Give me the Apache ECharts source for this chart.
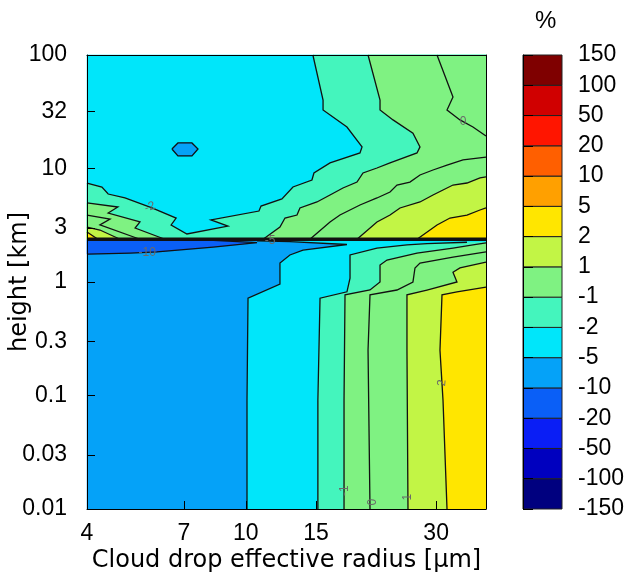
<!DOCTYPE html>
<html><head><meta charset="utf-8">
<script src="https://cdn.jsdelivr.net/npm/echarts@6/dist/echarts.min.js"></script>
<style>html,body{margin:0;padding:0;background:#fff}#c{width:632px;height:583px}</style>
</head><body><div id="c"></div>
<script>
// ---- colour scale (%), band i spans levels[i]..levels[i+1]
const levels = [-150,-100,-50,-20,-10,-5,-2,-1,1,2,5,10,20,50,100,150];
const bandColors = ['#00007f','#0000bf','#0a1ef5','#0a5ff7','#05a2f8','#00e6fa','#44f5bd','#7ff282','#c2f545','#ffe600','#ffa000','#ff5f00','#ff1500','#d00000','#7f0000'];
// ---- axes
const xTicks = [4,7,10,15,30];
const yTicks = [0.01,0.03,0.1,0.3,1,3,10,32,100];
const yTickLabels = ['0.01','0.03','0.1','0.3','1','3','10','32','100'];
const hJump = 2.38; // height (km) of the sharp jump
// ---- contour lines, points are [radius um, height km]
// below the jump
const lowM5 = [[10.07,0.01],[10.07,0.091],[10.13,0.72],[12.18,0.96],[12.18,1.47],[12.90,1.73],[13.91,1.91],[17.93,2.14],[12.90,2.27],[10.67,2.30]];
const lowM2 = [[15.16,0.01],[15.16,0.091],[15.35,0.72],[17.93,0.82],[18.25,1.08],[18.25,1.73],[21.32,1.99],[25.35,2.12],[28.45,2.18],[35.84,2.24]];
const lowM1 = [[17.63,0.01],[17.63,0.091],[17.73,0.77],[20.48,0.85],[21.70,1.00],[21.70,1.41],[22.59,1.56],[26.86,1.80],[33.06,1.99],[37.10,2.12],[40,2.21]];
const low0  = [[20.48,0.01],[20.25,0.25],[20.48,0.77],[23.93,0.85],[26.24,1.00],[26.55,1.33],[27.33,1.47],[33.06,1.66],[40,1.84]];
const lowP1 = [[25.50,0.01],[25.35,0.25],[25.35,0.77],[28.45,0.85],[33.83,1.00],[33.06,1.22],[34.42,1.33],[40,1.50]];
const lowP2 = [[31.94,0.01],[31.21,0.091],[30.67,0.25],[31.03,0.77],[33.83,0.82],[40,0.90]];
const lowM10 = [[4,1.76],[5.13,1.80],[5.99,1.84],[8.28,2.03],[10.67,2.22],[8.3,2.33],[4,2.38]];
// above the jump
const upM2 = [[4,7.45],[4.36,6.87],[4.52,5.96],[4.98,5.50],[5.82,4.49],[6.69,3.66],[6.50,3.18],[7.12,2.65],[9.02,3.11],[8.18,3.52],[10.79,4.22],[10.92,4.67],[12.32,5.39],[13.13,6.87],[14.65,7.92],[14.82,9.13],[16.26,11.2],[19.33,13.7],[19.56,15.5],[17.93,23.2],[15.62,32.8],[15.62,40.1],[14.73,100]];
const upM1 = [[11.05,2.38],[12.18,3.05],[12.54,3.66],[13.44,3.89],[13.67,4.49],[15.08,5.07],[16.26,5.84],[17.52,6.73],[19.00,7.60],[19.67,9.13],[21.32,10.1],[22.99,11.2],[26.86,13.7],[27.33,15.5],[26.24,20.5],[23.39,26.8],[21.70,32.8],[21.70,40.1],[20.25,100]];
const upM1L = [[4,4.97],[4.78,4.58],[4.52,4.05],[5.43,3.38],[5.28,2.99],[6.27,2.38]];
const up0 = [[14.48,2.38],[16.26,3.38],[17.22,3.89],[19.33,4.77],[21.32,5.50],[22.99,6.21],[23.93,7.15],[25.79,7.60],[27.33,8.77],[29.46,9.70],[31.94,10.7],[35.03,11.9],[40,12.6]];
const up0TR = [[30.15,100],[33.06,42.7],[31.94,32.8],[34.42,26.8],[37.10,23.2],[40,19.3]];
const up0L = [[4,3.89],[4.57,3.59],[4.31,3.18],[5.43,2.38]];
const upP1 = [[19.00,2.38],[21.32,3.38],[22.99,3.89],[24.35,4.49],[27.33,5.07],[29.46,5.84],[31.21,6.47],[33.06,7.15],[35.84,7.45],[38.64,8.25],[40,8.42]];
const upP1L = [[4,3.05],[4.31,2.87],[4.84,2.38]];
const upP2 = [[26.86,2.38],[30.15,3.18],[32.49,3.66],[35.84,3.89],[38.64,4.31],[40,4.49]];
const upP2L = [[4,2.76],[4.26,2.38]];
const blob = [[6.53,14.85],[6.76,16.8],[7.33,16.8],[7.59,14.85],[7.33,12.9],[6.76,12.9],[6.53,14.85]];
// contour labels [radius, height, text, rotation deg]
const contourLabels = [[5.75,4.58,'-2',-20],[5.66,1.80,'-10',0],[11.5,2.30,'-5',0],[35.03,25.7,'0',0],[31.03,0.129,'2',-85],[17.73,0.0145,'-1',-90],[20.8,0.0115,'0',-90],[25.5,0.0127,'1',-90]];

// ---- filled regions, painted in order
const fills = [
  {band:4, pts:[[4,0.01],[4,hJump],[40,hJump],[40,0.01]]},
  {band:5, pts:lowM5.concat([[10.67,hJump],[40,hJump],[40,0.01]])},
  {band:6, pts:lowM2.concat([[40,2.25],[40,0.01]])},
  {band:7, pts:lowM1.concat([[40,0.01]])},
  {band:8, pts:lowP1.concat([[40,0.01]])},
  {band:9, pts:lowP2.concat([[40,0.01]])},
  {band:3, pts:lowM10},
  {band:5, pts:[[4,hJump],[4,100],[40,100],[40,hJump]]},
  {band:6, pts:upM2.concat([[40,100],[40,hJump],[4,hJump]])},
  {band:7, pts:upM1.concat([[40,100],[40,hJump]])},
  {band:7, pts:upM1L.concat([[4,hJump]])},
  {band:8, pts:upP1.concat([[40,hJump]])},
  {band:8, pts:upP1L.concat([[4,hJump]])},
  {band:9, pts:upP2.concat([[40,hJump]])},
  {band:9, pts:upP2L.concat([[4,hJump]])},
  {band:4, pts:blob}
];
const lines = [lowM5,lowM2,lowM1,low0,lowP1,lowP2,lowM10,upM2,upM1,upM1L,up0,up0TR,up0L,upP1,upP1L,upP2,upP2L,blob];
const jumpLine = [[4,hJump],[40,hJump]];

const FONT = "'Liberation Sans', Arial, Helvetica, sans-serif";
const TFONT = "'DejaVu Sans', Verdana, sans-serif";
const chart = echarts.init(document.getElementById('c'), null, {renderer:'canvas'});

function fmtY(v){
  let best = 0, bd = Infinity;
  yTicks.forEach((t,i)=>{ const d = Math.abs(Math.log10(t)-Math.log10(v)); if(d<bd){bd=d;best=i;} });
  return yTickLabels[best];
}
function fmtX(v){
  let best = 0, bd = Infinity;
  xTicks.forEach((t,i)=>{ const d = Math.abs(t-v); if(d<bd){bd=d;best=i;} });
  return String(xTicks[best]);
}

const option = {
  animation:false,
  backgroundColor:'#fff',
  grid:[
    {left:87, right:146, top:55, height:454, show:false, containLabel:false, outerBoundsMode:'none'},
    {left:523, width:39, top:55, height:454, show:false, containLabel:false, outerBoundsMode:'none'}
  ],
  graphic:[{type:'text', left:535, top:9, style:{text:'%', font:"24px "+FONT, fill:'#000'}}],
  xAxis:[
    {type:'log', logBase:10, gridIndex:0, min:4, max:40, z:10,
     axisLine:{show:true, lineStyle:{color:'#000', width:1}},
     axisTick:{show:true, inside:true, length:8, customValues:xTicks, lineStyle:{color:'#000'}},
     axisLabel:{customValues:xTicks, formatter:fmtX, fontSize:23, fontFamily:FONT, color:'#000', margin:13},
     minorTick:{show:false}, splitLine:{show:false},
     name:'Cloud drop effective radius [μm]', nameLocation:'middle', nameGap:40, nameMoveOverlap:false,
     nameTextStyle:{fontSize:24, fontFamily:TFONT, color:'#000'}},
    {type:'value', gridIndex:1, min:0, max:1, show:false},
    {type:'log', logBase:10, gridIndex:0, min:4, max:40, position:'top', z:10,
     axisLine:{show:true, lineStyle:{color:'#000', width:1}}, axisTick:{show:false}, axisLabel:{show:false}, splitLine:{show:false}}
  ],
  yAxis:[
    {type:'log', logBase:10, gridIndex:0, min:0.01, max:100, z:10,
     axisLine:{show:true, lineStyle:{color:'#000', width:1}},
     axisTick:{show:true, inside:true, length:8, customValues:yTicks, lineStyle:{color:'#000'}},
     axisLabel:{customValues:yTicks, formatter:fmtY, fontSize:23, fontFamily:FONT, color:'#000', margin:20},
     minorTick:{show:false}, splitLine:{show:false},
     name:'height [km]', nameLocation:'middle', nameGap:55, nameMoveOverlap:false,
     nameTextStyle:{fontSize:24, fontFamily:TFONT, color:'#000'}},
    {type:'value', gridIndex:1, min:0, max:15, interval:1, position:'right', z:10,
     axisLine:{show:true, lineStyle:{color:'#000', width:1}},
     axisTick:{show:true, length:10, lineStyle:{color:'#000'}},
     axisLabel:{formatter:(v)=>String(levels[Math.round(v)]), fontSize:23, fontFamily:FONT, color:'#000', margin:16, showMinLabel:true, showMaxLabel:true},
     splitLine:{show:false}},
    {type:'log', logBase:10, gridIndex:0, min:0.01, max:100, position:'right', z:10,
     axisLine:{show:true, lineStyle:{color:'#000', width:1}}, axisTick:{show:false}, axisLabel:{show:false}, splitLine:{show:false}}
  ],
  series:[
    {type:'custom', name:'fills', xAxisIndex:0, yAxisIndex:0, silent:true, z:1,
     data: fills.map((f,i)=>[f.pts[0][0], f.pts[0][1], i]),
     encode:{x:0,y:1},
     renderItem:(params, api)=>{
       const f = fills[api.value(2)];
       return {type:'polygon', shape:{points:f.pts.map(p=>api.coord(p))}, style:{fill:bandColors[f.band], stroke:bandColors[f.band], lineWidth:0.5}};
     }},
    {type:'custom', name:'contours', xAxisIndex:0, yAxisIndex:0, silent:true, z:2,
     data: lines.map((l,i)=>[l[0][0], l[0][1], i]),
     encode:{x:0,y:1},
     renderItem:(params, api)=>{
       const l = lines[api.value(2)];
       return {type:'polyline', shape:{points:l.map(p=>api.coord(p))}, style:{stroke:'#111', lineWidth:1.3, fill:null}};
     }},
    {type:'custom', name:'jump', xAxisIndex:0, yAxisIndex:0, silent:true, z:3,
     data:[[4,hJump,0]], encode:{x:0,y:1},
     renderItem:(params, api)=>({type:'polyline', shape:{points:jumpLine.map(p=>api.coord(p))}, style:{stroke:'#111', lineWidth:3.5, fill:null}})},
    {type:'custom', name:'labels', xAxisIndex:0, yAxisIndex:0, silent:true, z:4,
     data: contourLabels.map(c=>[c[0], c[1], c[3]]), encode:{x:0,y:1},
     renderItem:(params, api)=>{
       const c = contourLabels[params.dataIndex];
       const p = api.coord([c[0], c[1]]);
       return {type:'text', x:p[0], y:p[1], rotation:-c[3]*Math.PI/180,
               style:{text:c[2], fill:'#6a6a6a', font:"12px "+FONT, align:'center', verticalAlign:'middle', textAlign:'center', textVerticalAlign:'middle'}};
     }},
    {type:'custom', name:'colorbar', xAxisIndex:1, yAxisIndex:1, silent:true, z:2,
     data: bandColors.map((c,i)=>[0, i, i]), encode:{x:0,y:1},
     renderItem:(params, api)=>{
       const i = api.value(2);
       const a = api.coord([0, i]), b = api.coord([1, i+1]);
       return {type:'rect', shape:{x:a[0], y:b[1], width:b[0]-a[0], height:a[1]-b[1]}, style:{fill:bandColors[i], stroke:'#222', lineWidth:1}};
     }}
  ]
};
chart.setOption(option);
</script>
</body></html>
